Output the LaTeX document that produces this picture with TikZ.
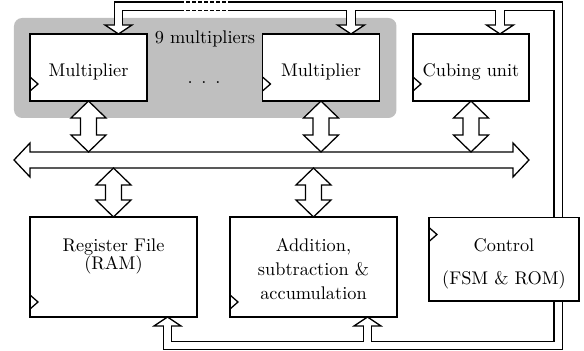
\documentclass[tikz,border=0pt]{standalone}
\usetikzlibrary{calc}
\begin{document}
\begin{tikzpicture}[x=0.546pt,y=-0.546pt,line width=0.7pt,
  box/.style={draw,fill=white,inner sep=0pt,outer sep=0pt},
  txt/.style={anchor=base,inner sep=0pt},
  fat/.style={draw,fill=white,line join=miter},
  railout/.style={draw=black,line width=5.35pt,line join=miter},
  railin/.style={draw=white,line width=3.93pt,line join=miter},
  hd/.style={draw,fill=white,line join=miter}]
\useasboundingbox (0,0) rectangle (584,351);
% gray group
\fill[black!25,rounded corners=4.4pt] (14,18) rectangle (396.5,118);
% boxes (positions)
\path node[box,minimum width=117*0.546pt,minimum height=67*0.546pt] (m1) at (88.5,67.5) {}
      node[box,minimum width=117*0.546pt,minimum height=67*0.546pt] (m2) at (321,67.5) {}
      node[box,minimum width=116*0.546pt,minimum height=67*0.546pt] (cube) at (471,67.5) {}
      node[box,minimum width=167*0.546pt,minimum height=100*0.546pt] (reg) at (113.5,267) {}
      node[box,minimum width=167*0.546pt,minimum height=100*0.546pt] (add) at (313.5,267) {}
      node[box,minimum width=150*0.546pt,minimum height=83.5*0.546pt] (ctrl) at (504,259.25) {};
% control rails coordinates
\coordinate (rt) at (0,6.25);
\coordinate (rb) at (0,345.5);
\coordinate (ctop) at ($(ctrl.north east)+(-20.75,0)$);
\coordinate (cbot) at ($(ctrl.south east)+(-20.75,0)$);
\coordinate (t1) at ($(m1.north west)+(88.5,0)$);
\coordinate (t2) at ($(m2.north west)+(88.5,0)$);
\coordinate (t3) at ($(cube.north west)+(87,0)$);
\coordinate (t4) at ($(reg.south west)+(137.5,0)$);
\coordinate (t5) at ($(add.south west)+(137.5,0)$);
\coordinate (h1) at ($(t1)+(0,-9)$);
\coordinate (h2) at ($(t2)+(0,-9)$);
\coordinate (h3) at ($(t3)+(0,-9)$);
\coordinate (h4) at ($(t4)+(0,9)$);
\coordinate (h5) at ($(t5)+(0,9)$);
% black outer rails
\draw[railout] (ctop) -- (ctop |- rt) -- (h1 |- rt) -- (h1);
\draw[railout] (h2 |- rt) -- (h2);
\draw[railout] (h3 |- rt) -- (h3);
\draw[railout] (cbot) -- (cbot |- rb) -- (h4 |- rb) -- (h4);
\draw[railout] (h5 |- rb) -- (h5);
% hollow heads
\foreach \h/\t in {h1/t1,h2/t2,h3/t3,h4/t4,h5/t5}{
  \draw[hd] (\t) -- ($(\h)+(13.5,0)$) -- ($(\h)+(-13.5,0)$) -- cycle;}
% white inner rails
\draw[railin] (ctop) -- (ctop |- rt) -- (h1 |- rt) -- ($(h1)+(0,2)$);
\draw[railin] (h2 |- rt) -- ($(h2)+(0,2)$);
\draw[railin] (h3 |- rt) -- ($(h3)+(0,2)$);
\draw[railin] (cbot) -- (cbot |- rb) -- (h4 |- rb) -- ($(h4)+(0,-2)$);
\draw[railin] (h5 |- rb) -- ($(h5)+(0,-2)$);
% dashed part of top rail
\coordinate (dA) at (180,0);
\coordinate (dB) at (230,12);
\fill[white] (dA) rectangle (dB);
\draw[dash pattern=on 2.2pt off 1.1pt] (180,2) -- (230,2) (180,10.5) -- (230,10.5);
% boxes drawn again on top
\path node[box,minimum width=117*0.546pt,minimum height=67*0.546pt] at (m1) {}
      node[box,minimum width=117*0.546pt,minimum height=67*0.546pt] at (m2) {}
      node[box,minimum width=116*0.546pt,minimum height=67*0.546pt] at (cube) {}
      node[box,minimum width=167*0.546pt,minimum height=100*0.546pt] at (reg) {}
      node[box,minimum width=167*0.546pt,minimum height=100*0.546pt] at (add) {}
      node[box,minimum width=150*0.546pt,minimum height=83.5*0.546pt] at (ctrl) {};
% clock marks
\foreach \n/\o in {m1/-17,m2/-17,cube/-17,reg/-15,add/-15}{
  \draw[line join=miter] ($(\n.south west)+(0,\o+7)$) -- ($(\n.south west)+(8,\o)$) -- ($(\n.south west)+(0,\o-7)$);}
\draw[line join=miter] ($(ctrl.north west)+(0,10)$) -- ($(ctrl.north west)+(8,17)$) -- ($(ctrl.north west)+(0,24)$);
% bus
\coordinate (busL) at (14,160);
\coordinate (busR) at (529,160);
\coordinate (bt) at (0,152);
\coordinate (bb) at (0,168);
\draw[fat] (busL) -- ++(16,-17) -- ++(0,9) -- ($(busR)+(-16,-8)$) -- ++(0,-9) -- (busR)
  -- ++(-16,17) -- ++(0,-9) -- ($(busL)+(16,8)$) -- ++(0,9) -- cycle;
% vertical bidirectional arrows
\newcommand\fatv[2]{%
  \draw[fat] (#1) -- ($(#1)+(17.5,17)$) -- ($(#1)+(8,17)$) -- ($(#2)+(8,-17)$)
    -- ($(#2)+(17.5,-17)$) -- (#2) -- ($(#2)+(-17.5,-17)$) -- ($(#2)+(-8,-17)$)
    -- ($(#1)+(-8,17)$) -- ($(#1)+(-17.5,17)$) -- cycle;}
\coordinate (a1) at (m1.south); \coordinate (b1) at (m1.south |- bt);
\coordinate (a2) at (m2.south); \coordinate (b2) at (m2.south |- bt);
\coordinate (a3) at (cube.south); \coordinate (b3) at (cube.south |- bt);
\coordinate (a4) at (reg.north |- bb); \coordinate (b4) at (reg.north);
\coordinate (a5) at (add.north |- bb); \coordinate (b5) at (add.north);
\fatv{a1}{b1}
\fatv{a2}{b2}
\fatv{a3}{b3}
\fatv{a4}{b4}
\fatv{a5}{b5}
% texts
\node[txt] (tm1) at (88.5,76.7) {Multiplier};
\node[txt] (tm2) at (321,76.7) {Multiplier};
\node[txt] (tcu) at (471,76.7) {Cubing unit};
\node[txt] (t9) at (205,43.3) {9 multipliers};
\node[txt] (tdots) at (204,83.8) {.\hspace{4.8pt}.\hspace{4.8pt}.};
\node[txt] (tr1) at (113.5,251.7) {Register File};
\node[txt] (tr2) at (113.5,270) {(RAM)};
\node[txt] (ta1) at (313.5,251.7) {Addition,};
\node[txt] (ta2) at (313.5,276) {subtraction \&};
\node[txt] (ta3) at (313.5,300) {accumulation};
\node[txt] (tc1) at (504,251.7) {Control};
\node[txt] (tc2) at (504,285) {(FSM \& ROM)};
\end{tikzpicture}
\end{document}
